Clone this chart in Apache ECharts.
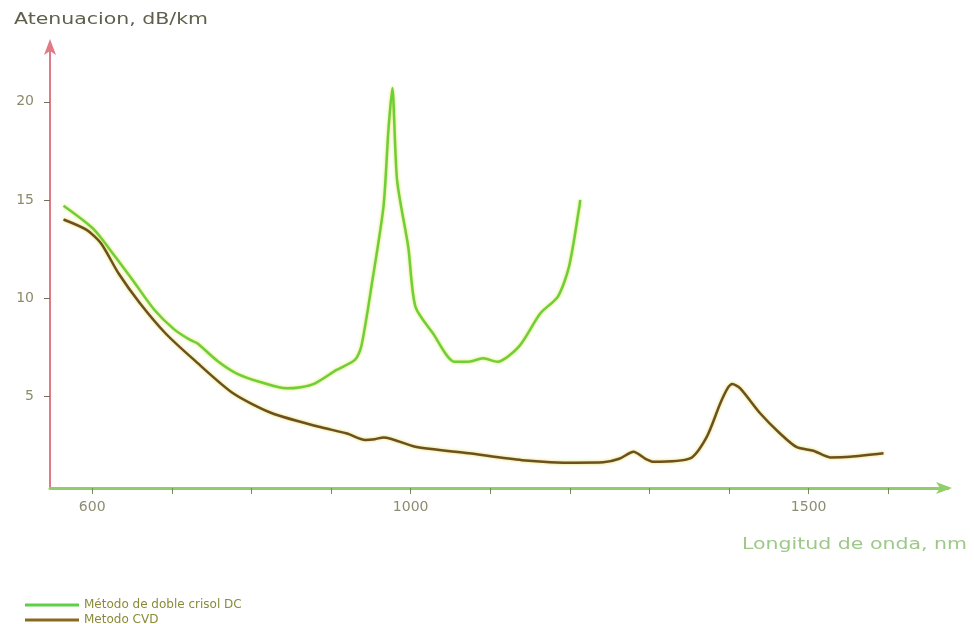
<!DOCTYPE html>
<html>
<head>
<meta charset="utf-8">
<script src="https://cdn.jsdelivr.net/npm/echarts@6/dist/echarts.min.js"></script>
<style>
html,body{margin:0;padding:0;background:#fff;}
#chart{width:974px;height:624px;}
</style>
</head>
<body>
<div id="chart"></div>
<script>
// Wavelength (nm) and attenuation (dB/km)
const dcWavelength = [564, 602, 629, 651, 678, 703, 723, 732, 757, 781, 812, 844, 862, 880, 907, 930, 938, 952, 966, 972, 977, 983, 997, 1006, 1028, 1055, 1073, 1091, 1109, 1136, 1163, 1185, 1199, 1212, 1213];
const dcAttenuation = [14.7, 13.5, 12.1, 10.9, 9.4, 8.4, 7.86, 7.69, 6.8, 6.16, 5.7, 5.39, 5.45, 5.65, 6.33, 6.84, 7.52, 10.9, 14.7, 18.5, 20.7, 16.0, 12.6, 9.56, 8.2, 6.75, 6.75, 6.92, 6.75, 7.52, 9.22, 10.07, 11.6, 14.66, 15.0];

const cvdWavelength = [564, 593, 611, 633, 660, 692, 728, 777, 826, 885, 920, 943, 955, 966, 1006, 1073, 1140, 1208, 1242, 1262, 1280, 1295, 1305, 1351, 1372, 1389, 1399, 1404, 1414, 1439, 1464, 1485, 1506, 1527, 1552, 1594];
const cvdAttenuation = [14.0, 13.47, 12.79, 11.26, 9.73, 8.2, 6.84, 5.14, 4.12, 3.43, 3.09, 2.76, 2.8, 2.89, 2.41, 2.08, 1.73, 1.6, 1.62, 1.8, 2.16, 1.8, 1.65, 1.82, 2.92, 4.63, 5.45, 5.61, 5.39, 4.12, 3.09, 2.39, 2.21, 1.87, 1.9, 2.08];

const xTicks = [600, 700, 800, 900, 1000, 1100, 1200, 1300, 1400, 1500, 1600];
const xTickLabels = [600, 1000, 1500];
const yTicks = [5, 10, 15, 20];

const seriesNames = ['Método de doble crisol DC', 'Metodo CVD'];
const yTitle = 'Atenuacion, dB/km';
const xTitle = 'Longitud de onda, nm';

const zip = (a, b) => a.map((v, i) => [v, b[i]]);

const legendBase = {
  orient: 'vertical', left: 20,
  itemWidth: 54, itemHeight: 3, icon: 'rect',
  textStyle: { color: '#8a8a3a', fontSize: 12, fontFamily: 'DejaVu Sans' }
};

const chart = echarts.init(document.getElementById('chart'));
chart.setOption({
  animation: false,
  backgroundColor: '#ffffff',
  grid: { left: 50, right: 26, top: 43, bottom: 136, containLabel: false },
  xAxis: {
    type: 'value',
    min: 547, max: 1675,
    splitLine: { show: false },
    axisLine: { show: true, symbol: ['none', 'arrow'], symbolSize: [9, 16], symbolOffset: [0, 4],
      lineStyle: { color: '#8fcf6a', width: 3 } },
    axisTick: { show: true, customValues: xTicks, length: 6, lineStyle: { color: '#6f8f5a', width: 1 } },
    axisLabel: { show: true, customValues: xTickLabels, margin: 12, color: '#8c8c72', fontSize: 14,
      fontFamily: 'DejaVu Sans', formatter: v => String(v) }
  },
  yAxis: {
    type: 'value',
    min: 0.31, max: 23,
    splitLine: { show: false },
    axisLine: { show: true, symbol: ['none', 'arrow'], symbolSize: [9, 16], symbolOffset: [0, 4],
      lineStyle: { color: '#e07a84', width: 2 } },
    axisTick: { show: true, customValues: yTicks, length: 6, lineStyle: { color: '#7a6a5a', width: 1 } },
    axisLabel: { show: true, customValues: yTicks, margin: 16, color: '#8c8c6a', fontSize: 14,
      fontFamily: 'DejaVu Sans', formatter: v => String(v) }
  },
  legend: [
    Object.assign({}, legendBase, { top: 594, data: [seriesNames[0]] }),
    Object.assign({}, legendBase, { top: 609, data: [seriesNames[1]] })
  ],
  series: [
    {
      name: seriesNames[0], type: 'line', data: zip(dcWavelength, dcAttenuation),
      smooth: 0.25, showSymbol: false, color: '#5fcf4a',
      lineStyle: { width: 2.5, color: '#6fcf3a', shadowColor: 'rgba(215,225,60,0.9)', shadowBlur: 3 }
    },
    {
      name: seriesNames[1], type: 'line', data: zip(cvdWavelength, cvdAttenuation),
      smooth: 0.25, showSymbol: false, color: '#8a6a20',
      lineStyle: { width: 2.5, color: '#6e5020', shadowColor: 'rgba(215,215,60,0.9)', shadowBlur: 3 }
    }
  ],
  graphic: [
    { type: 'text', x: 14, y: 12, scaleX: 1.28, style: { text: yTitle, fill: '#5f5f4c', fontSize: 16, fontFamily: 'DejaVu Sans' } },
    { type: 'text', x: 742, y: 537, scaleX: 1.28, style: { text: xTitle, fill: '#9ec88a', fontSize: 16, fontFamily: 'DejaVu Sans' } }
  ]
});
</script>
</body>
</html>
